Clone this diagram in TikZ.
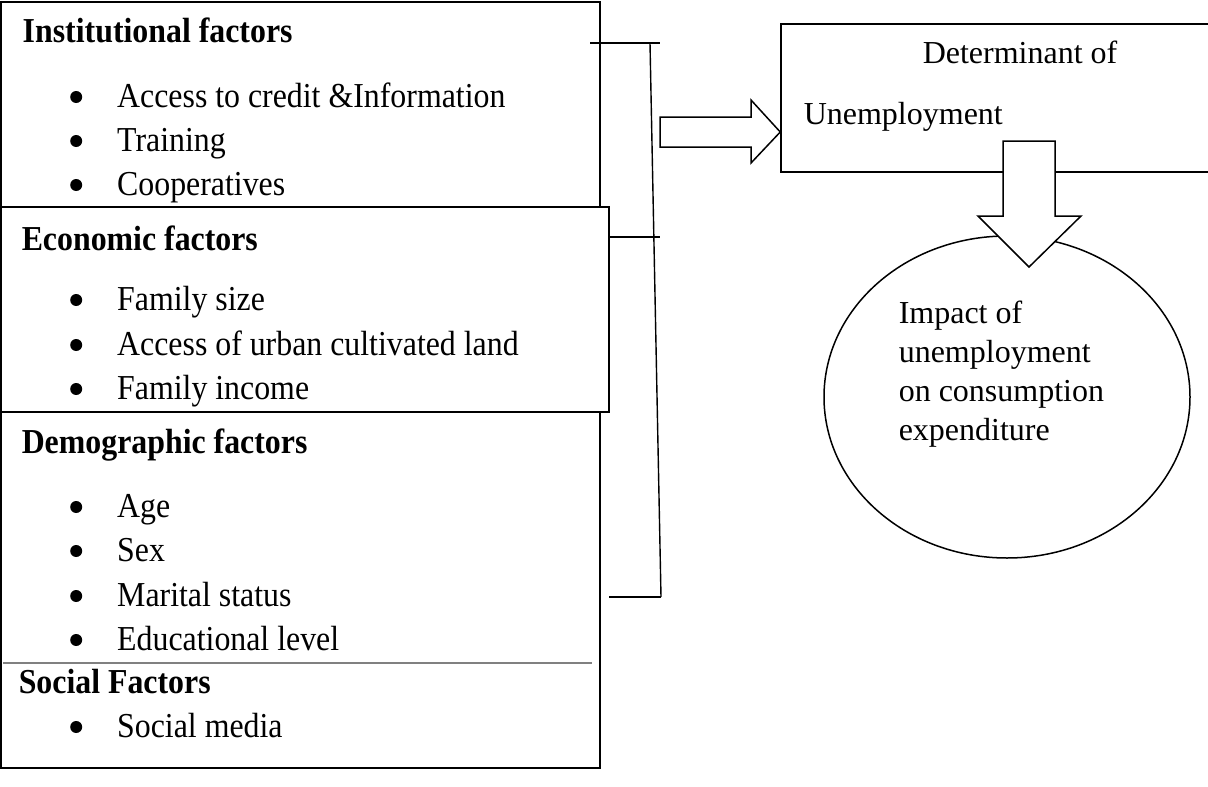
\documentclass[tikz,border=0pt]{standalone}
\usepackage{fontspec}
\setmainfont{Liberation Serif}
\newfontfamily\condfont[FakeStretch=0.91]{Liberation Serif}
\usetikzlibrary{shapes.geometric}
\newcommand{\blt}{\raisebox{4pt}{\tikz\fill (0,0) circle (6pt);}}
\newcommand{\itm}[1]{\makebox[47pt][l]{\blt}#1}
\begin{document}
\begin{tikzpicture}[x=1pt,y=-1pt, line width=1.5pt,
  box/.style={draw, fill=white, inner sep=0pt},
  lbl/.style={anchor=base west, inner sep=0pt, font=\fontsize{32}{38}\selectfont},
  lft/.style={anchor=base west, inner sep=0pt, font=\condfont\fontsize{35}{40}\selectfont},
  ttl/.style={anchor=base west, inner sep=0pt, font=\condfont\fontsize{35}{40}\selectfont\bfseries},
  blockarrow/.style={draw, fill=white, line join=miter},
  bracket/.style={draw, line width=1.4pt}]
\useasboundingbox (0,0) rectangle (1208,787);
% left boxes
\node[box, minimum width=599pt, minimum height=205pt] (inst) at (300.5,104.5) {};
\node[box, minimum width=599pt, minimum height=356pt] (demo) at (300.5,590) {};
\node[box, minimum width=608pt, minimum height=205pt] (econ) at (305,309.5) {};
\draw[gray, line width=1.2pt] (3,663) -- (592,663);
% texts
\node[ttl] (t1) at (22,42) {Institutional factors};
\node[lft] (i1) at (70,107) {\itm{Access to credit \&Information}};
\node[lft] (i2) at (70,151) {\itm{Training}};
\node[lft] (i3) at (70,195) {\itm{Cooperatives}};
\node[ttl] (t2) at (21,250) {Economic factors};
\node[lft] (e1) at (70,310) {\itm{Family size}};
\node[lft] (e2) at (70,355) {\itm{Access of urban cultivated land}};
\node[lft] (e3) at (70,399) {\itm{Family income}};
\node[ttl] (t3) at (21,453) {Demographic factors};
\node[lft] (d1) at (70,517) {\itm{Age}};
\node[lft] (d2) at (70,561) {\itm{Sex}};
\node[lft] (d3) at (70,606) {\itm{Marital status}};
\node[lft] (d4) at (70,650) {\itm{Educational level}};
\node[ttl] (t4) at (18,693) {Social Factors};
\node[lft] (s1) at (70,737) {\itm{Social media}};
% bracket
\coordinate (b1) at (590,43);
\coordinate (b2) at (660,43);
\coordinate (b3) at (650,43);
\coordinate (b4) at (661,597);
\coordinate (b5) at (609,597);
\coordinate (b6) at (609,237);
\coordinate (b7) at (660,237);
\draw[bracket] (b1) -- (b2);
\draw[bracket] (b3) -- (b4);
\draw[bracket] (b6) -- (b7);
\draw[bracket] (b5) -- (b4);
% right side
\node[box, minimum width=431pt, minimum height=148pt] (det) at (996.5,98) {};
\node[lbl] (dt1) at (922,63) {Determinant of};
\node[lbl] (dt2) at (803,124) {Unemployment};
\node[box, ellipse, minimum width=366pt, minimum height=322pt] (imp) at (1007,397) {};
\node[lbl] (m1) at (898,323) {Impact of};
\node[lbl] (m2) at (898,362) {unemployment};
\node[lbl] (m3) at (898,401) {on consumption};
\node[lbl] (m4) at (898,440) {expenditure};
% block arrows
\draw[blockarrow] (660,117) -- (751,117) -- (751,100) -- (det.west |- 0,132) -- (751,163) -- (751,147) -- (660,147) -- cycle;
\draw[blockarrow] (1003,141) -- (1055,141) -- (1055,216) -- (1081,216) -- (1029,267) -- (978,216) -- (1003,216) -- cycle;
\end{tikzpicture}
\end{document}
